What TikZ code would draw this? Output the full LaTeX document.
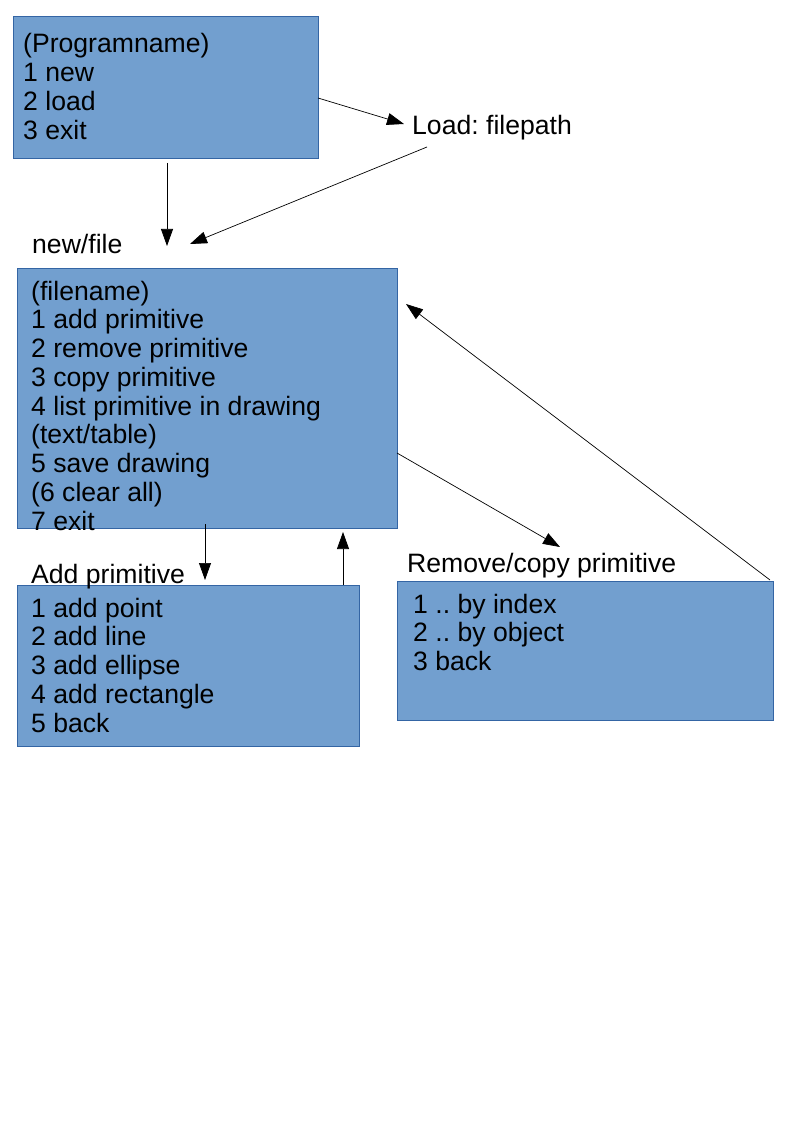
\documentclass[tikz,border=0pt]{standalone}
\usepackage{fontspec}
\setmainfont{Liberation Sans}
\usetikzlibrary{arrows.meta}
\definecolor{boxfill}{HTML}{729FCF}
\definecolor{boxline}{HTML}{3465A4}
\newcommand{\menulines}[1]{\begin{tabular}[t]{@{}l@{}}#1\end{tabular}}
\frenchspacing
\begin{document}
\begin{tikzpicture}[x=1pt,y=-1pt,
  menubox/.style={draw=boxline, fill=boxfill, line width=1pt, rectangle, inner sep=0pt, anchor=north west},
  menutext/.style={anchor=base west, inner sep=0pt, font=\fontsize{26.6}{28.75}\selectfont},
  conn/.style={line width=0.7pt, -{Triangle[length=17pt,width=12pt]}}]
\useasboundingbox[fill=white] (0,0) rectangle (794,1123);
% boxes
\node[menubox, minimum width=305pt, minimum height=142pt] (b1) at (13,16) {};
\node[menubox, minimum width=380pt, minimum height=260pt] (b2) at (17,268) {};
\node[menubox, minimum width=342pt, minimum height=161pt] (b3) at (17,585) {};
\node[menubox, minimum width=376pt, minimum height=139pt] (b4) at (397,581) {};
% box texts
\node[menutext] (t1) at (23,53) {\menulines{(Programname)\\1 new\\2 load\\3 exit}};
\node[menutext] (t2) at (31,300) {\menulines{(filename)\\1 add primitive\\2 remove primitive\\3 copy primitive\\4 list primitive in drawing\\(text/table)\\5 save drawing\\(6 clear all)\\7 exit}};
\node[menutext] (t3) at (31,617) {\menulines{1 add point\\2 add line\\3 add ellipse\\4 add rectangle\\5 back}};
\node[menutext] (t4) at (413,613) {\menulines{1 .. by index\\2 .. by object\\3 back}};
% labels
\node[menutext] (lload) at (412,135) {Load: filepath};
\node[menutext] (lnew) at (32,254) {new/file};
\node[menutext] (ladd) at (31,583) {Add primitive};
\node[menutext] (lrem) at (407,572) {Remove/copy primitive};
% connector end points
\coordinate (a1s) at (318,98);  \coordinate (a1e) at (404,124);
\coordinate (a2s) at (427,147); \coordinate (a2e) at (190,244);
\coordinate (a3s) at (167,163); \coordinate (a3e) at (167,246);
\coordinate (a4s) at (205,524); \coordinate (a4e) at (205,580);
\coordinate (a5s) at (343,585); \coordinate (a5e) at (343,532);
\coordinate (a6s) at (397,453); \coordinate (a6e) at (560,547);
\coordinate (a7s) at (770,580); \coordinate (a7e) at (406,304);
\draw[conn] (a1s) -- (a1e);
\draw[conn] (a2s) -- (a2e);
\draw[conn] (a3s) -- (a3e);
\draw[conn] (a4s) -- (a4e);
\draw[conn] (a5s) -- (a5e);
\draw[conn] (a6s) -- (a6e);
\draw[conn] (a7s) -- (a7e);
\end{tikzpicture}
\end{document}
